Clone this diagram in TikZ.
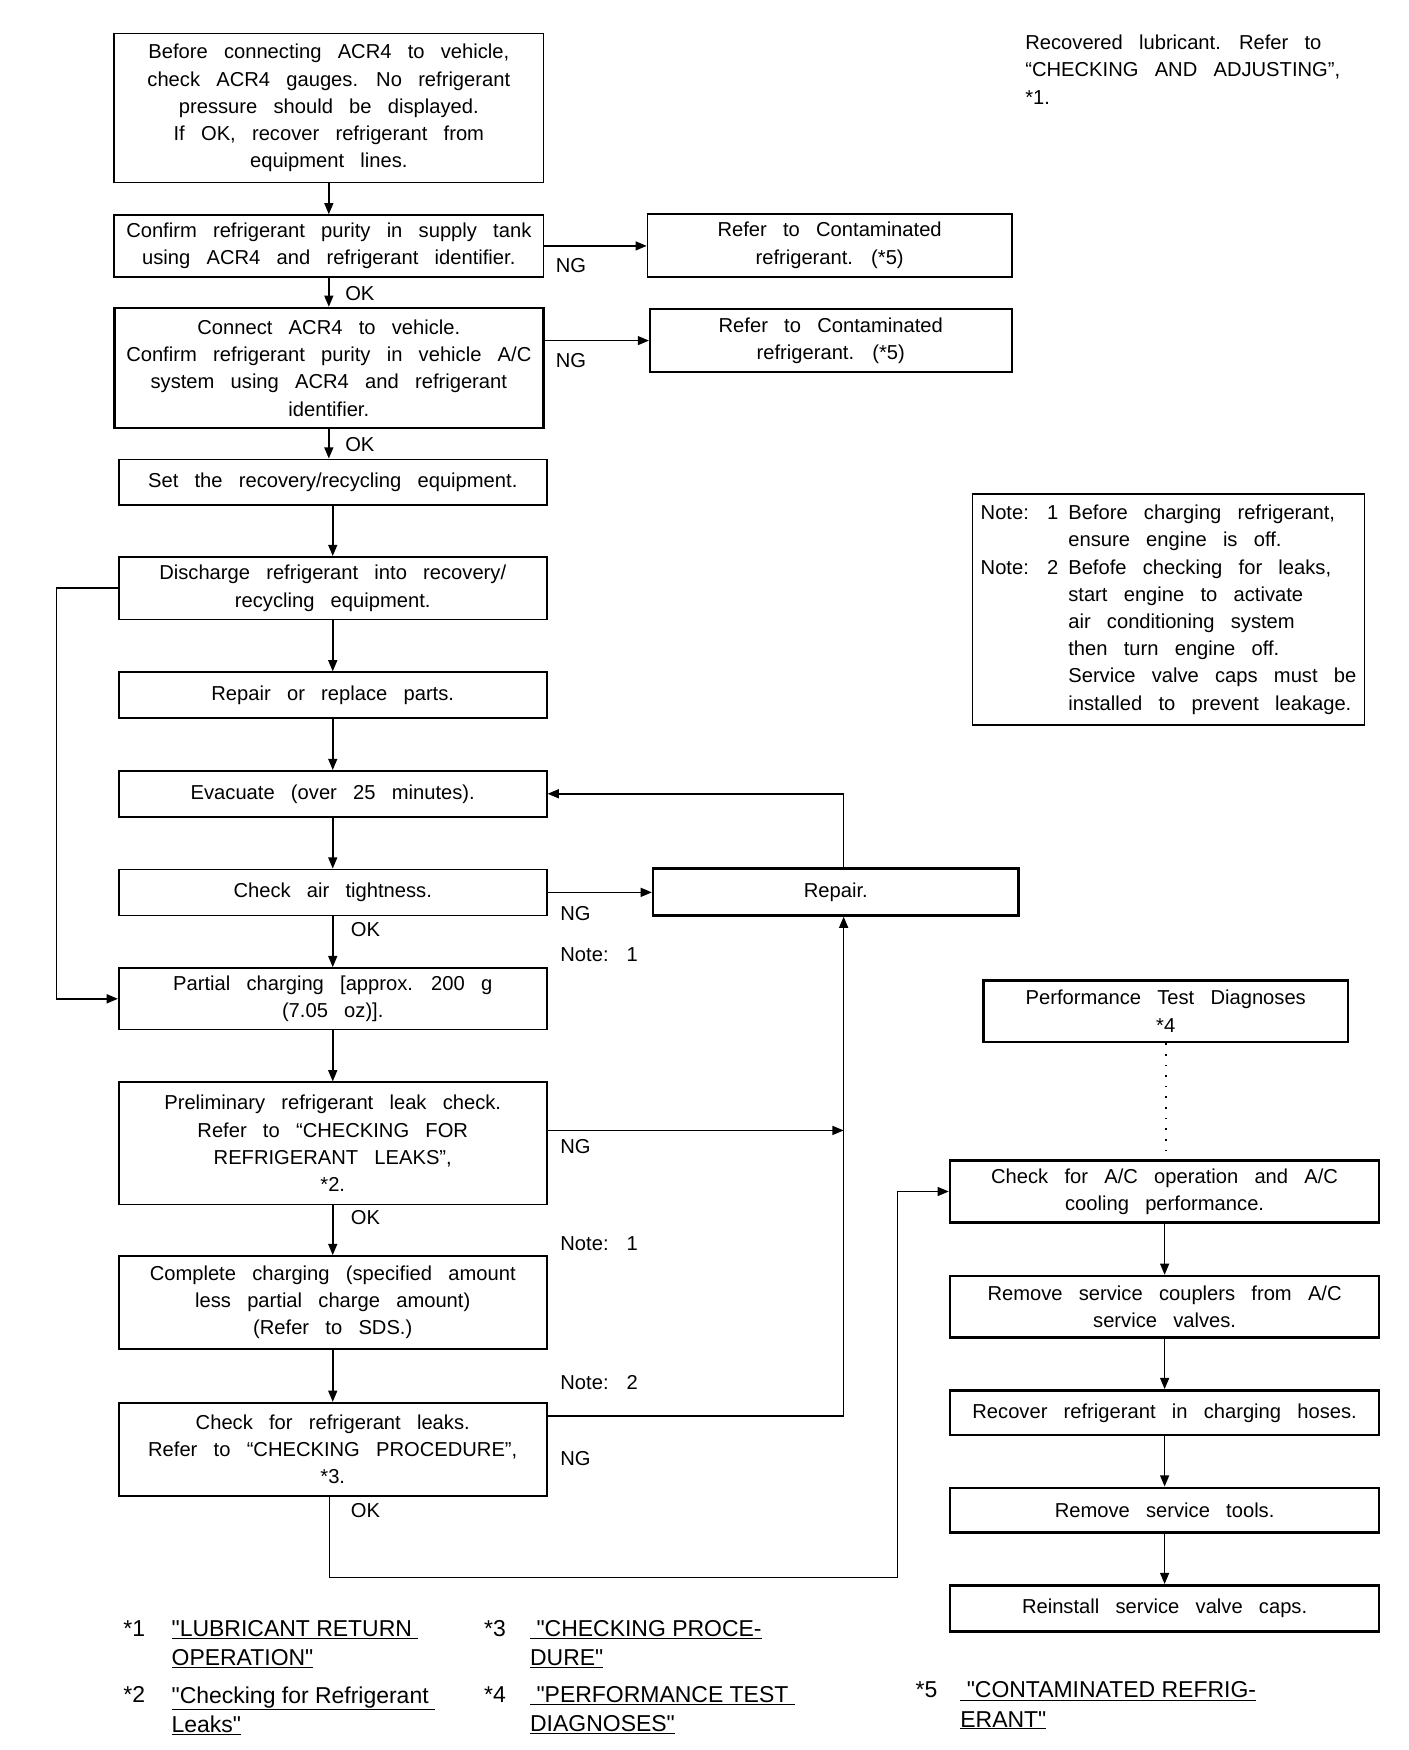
\documentclass[tikz,border=0pt]{standalone}
\usepackage{fontspec}
\setmainfont{Liberation Sans}
\newfontfamily\fnfont[Ligatures=TeXOff]{Liberation Sans}
\usetikzlibrary{arrows.meta,calc}
\newcommand\dq{\symbol{34}}
\newcommand\wsp{\spaceskip=14.5pt plus 2pt minus 1pt\relax}
\newcommand\mainfnt{\fontsize{18}{24.3}\selectfont\wsp}
\tikzset{
  T/.style={font=\mainfnt},
  fn/.style={font=\fnfont\fontsize{20.5}{26}\selectfont, inner sep=0pt},
  box/.style={draw, line width=1.5pt, inner sep=0pt, align=center, T},
  thk/.style={line width=2.3pt},
  arr/.style={line width=1.4pt, -{Triangle[length=10pt,width=8pt]}},
  lbl/.style={T, anchor=west, inner sep=0pt},
}
\newcommand\mybox[7][]{\node[box,#1,minimum width={(#5-#3)*1pt},minimum height={(#6-#4)*1pt}] (#2) at ({(#3+#5)/2},{(#4+#6)/2}) {#7};}
\begin{document}
\begin{tikzpicture}[x=1pt,y=-1pt]
\fill[white] (0,0) rectangle (1257,1562);
\useasboundingbox (0,0) rectangle (1257,1562);
% left column
\mybox{b1}{102}{30}{485}{163}{Before connecting ACR4 to vehicle,\\check ACR4 gauges. No refrigerant\\pressure should be displayed.\\If OK, recover refrigerant from\\equipment lines.}
\mybox{b2}{102}{192}{485}{247}{Confirm refrigerant purity in supply tank\\using ACR4 and refrigerant identifier.}
\mybox{r1}{578}{191}{903}{247}{Refer to Contaminated\\refrigerant. (*5)}
\mybox[thk]{b3}{102}{275}{485}{382}{Connect ACR4 to vehicle.\\Confirm refrigerant purity in vehicle A/C\\system using ACR4 and refrigerant\\identifier.}
\mybox{r2}{580}{276}{903}{332}{Refer to Contaminated\\refrigerant. (*5)}
\mybox{b4}{106}{410}{488}{451}{Set the recovery/recycling equipment.}
\mybox{b5}{106}{497}{488}{553}{Discharge refrigerant into recovery/\\recycling equipment.}
\mybox{b6}{106}{600}{488}{641}{Repair or replace parts.}
\mybox{ev}{106}{688}{488}{729}{Evacuate (over 25 minutes).}
\mybox{air}{106}{776}{488}{817}{Check air tightness.}
\mybox[thk]{rep}{583}{775}{909}{817}{Repair.}
\mybox{pc}{106}{864}{488}{919}{Partial charging [approx. 200 g\\(7.05 oz)].}
\mybox{pre}{106}{966}{488}{1075}{Preliminary refrigerant leak check.\\Refer to “CHECKING FOR\\REFRIGERANT LEAKS”,\\*2.}
\mybox{cc}{106}{1121}{488}{1204}{Complete charging (specified amount\\less partial charge amount)\\(Refer to SDS.)}
\mybox{lk}{106}{1252}{488}{1335}{Check for refrigerant leaks.\\Refer to “CHECKING PROCEDURE”,\\*3.}
% right column
\mybox[thk]{pf}{878}{875}{1203}{930}{Performance Test Diagnoses\\*4}
\mybox[thk]{ac}{848}{1036}{1231}{1091}{Check for A/C operation and A/C\\cooling performance.}
\mybox[thk]{rc}{848}{1139}{1231}{1194}{Remove service couplers from A/C\\service valves.}
\mybox[thk]{rh}{848}{1241}{1231}{1281}{Recover refrigerant in charging hoses.}
\mybox[thk]{rt}{848}{1328}{1231}{1368}{Remove service tools.}
\mybox[thk]{ri}{848}{1415}{1231}{1456}{Reinstall service valve caps.}
% note box
\node[box,minimum width=350pt,minimum height=206pt] (nt) at (1043,544) {%
\begin{tabular}{@{}l@{\hspace{9pt}}l@{}}
\wsp Note: 1 & \wsp Before charging refrigerant,\\
 & \wsp ensure engine is off.\\
\wsp Note: 2 & \wsp Befofe checking for leaks,\\
 & \wsp start engine to activate\\
 & \wsp air conditioning system\\
 & \wsp then turn engine off.\\
 & \wsp Service valve caps must be\\
 & \wsp installed to prevent leakage.
\end{tabular}};
% top right text
\node[T, anchor=north west, align=left, inner sep=0pt] (rl) at (915,31) {Recovered lubricant. Refer to\\“CHECKING AND ADJUSTING”,\\*1.};
% labels
\node[lbl] (ng1) at (496,237) {NG};
\node[lbl] (ok1) at (308,262) {OK};
\node[lbl] (ng2) at (496,322) {NG};
\node[lbl] (ok2) at (308,397) {OK};
\node[lbl] (ng3) at (500,815) {NG};
\node[lbl] (ok3) at (313,830) {OK};
\node[lbl] (nn1) at (500,852) {Note: 1};
\node[lbl] (ng4) at (500,1023) {NG};
\node[lbl] (ok4) at (313,1087) {OK};
\node[lbl] (nn2) at (500,1110) {Note: 1};
\node[lbl] (nn3) at (500,1234) {Note: 2};
\node[lbl] (ng5) at (500,1302) {NG};
\node[lbl] (ok5) at (313,1348) {OK};
% connectors
\draw[arr] (b1.south) -- (b2.north);
\draw[arr] (b2.east) -- (b2.east -| r1.west);
\draw[arr] (b2.south) -- (b3.north);
\draw[arr] (b3.east |- r2.west) -- (r2.west);
\draw[arr] (b3.south) -- (b3.south |- b4.north);
\draw[arr] (b4.south) -- (b5.north);
\draw[arr] (b5.south) -- (b6.north);
\draw[arr] (b6.south) -- (ev.north);
\draw[arr] (ev.south) -- (air.north);
\draw[arr] (air.south) -- (pc.north);
\draw[arr] (pc.south) -- (pre.north);
\draw[arr] (pre.south) -- (cc.north);
\draw[arr] (cc.south) -- (lk.north);
\draw[arr] (b5.west) -- ++(-55,0) |- (pc.west);
\draw[arr] (air.east) -- (air.east -| rep.west);
\coordinate (rx) at ([xshift=7pt]rep.south);
\draw[arr] (rx |- rep.north) |- (ev.east);
\draw[arr] ([yshift=11.5pt]pre.east) -- ([yshift=11.5pt]pre.east -| rx);
\draw[arr] ([yshift=29.5pt]lk.east) -| (rx);
\coordinate (okc) at (801,1408);
\draw[arr] ([xshift=-3pt]lk.south) |- (okc) |- (ac.west);
\draw[line width=1.5pt, dash pattern=on 1.5pt off 8pt] (pf.south) -- (pf.south |- ac.north);
\draw[arr] (ac.south) -- (rc.north);
\draw[arr] (rc.south) -- (rh.north);
\draw[arr] (rh.south) -- (rt.north);
\draw[arr] (rt.south) -- (ri.north);
% footnotes
\node[fn, anchor=north west] (f1) at (110,1446) {*1};
\node[fn, anchor=north west, align=left] (f1t) at (153,1446) {\underline{\dq LUBRICANT RETURN\ }\\\underline{OPERATION\dq}};
\node[fn, anchor=north west] (f2) at (110,1505) {*2};
\node[fn, anchor=north west, align=left] (f2t) at (153,1505) {\underline{\dq Checking for Refrigerant\ }\\\underline{Leaks\dq}};
\node[fn, anchor=north west] (f3) at (432,1446) {*3};
\node[fn, anchor=north west, align=left] (f3t) at (473,1446) {\underline{\ \dq CHECKING PROCE-}\\\underline{DURE\dq}};
\node[fn, anchor=north west] (f4) at (432,1505) {*4};
\node[fn, anchor=north west, align=left] (f4t) at (473,1505) {\underline{\ \dq PERFORMANCE TEST\ }\\\underline{DIAGNOSES\dq}};
\node[fn, anchor=north west] (f5) at (817,1501) {*5};
\node[fn, anchor=north west, align=left] (f5t) at (857,1501) {\underline{\ \dq CONTAMINATED REFRIG-}\\\underline{ERANT\dq}};
\end{tikzpicture}
\end{document}
